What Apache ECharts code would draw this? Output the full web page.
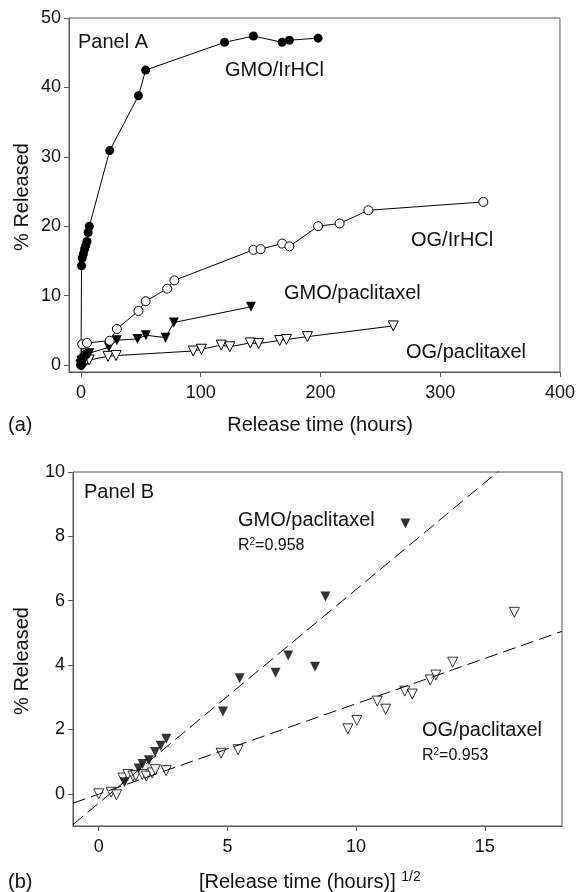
<!DOCTYPE html>
<html>
<head>
<meta charset="utf-8">
<script src="https://cdn.jsdelivr.net/npm/echarts@6/dist/echarts.min.js"></script>
<style>
    html, body { margin: 0; padding: 0; background: #fff; }
    #chart { width: 578px; height: 892px; }
</style>
</head>
<body>
<div id="chart"></div>
<script>
// Panel A data: release time (hours) and % released
let gmoIrTime = [0, 0.5, 1, 2, 3, 4, 5, 6, 7, 24, 48, 54, 120, 144, 168, 174, 198];
let gmoIrPct = [0, 14.3, 15.4, 16.0, 16.7, 17.2, 17.8, 19.1, 20.0, 30.9, 38.8, 42.5, 46.5, 47.4, 46.5, 46.8, 47.1];

let ogIrTime = [0, 1, 5, 24, 30, 48, 54, 72, 78, 144, 150, 168, 174, 198, 216, 240, 336];
let ogIrPct = [0, 3.0, 3.2, 3.5, 5.2, 7.8, 9.2, 11.0, 12.2, 16.6, 16.7, 17.5, 17.1, 20.0, 20.4, 22.3, 23.5];

let gmoPacTime = [0, 1, 2.4, 2.9, 3.8, 4.8, 5.8, 6.9, 23.3, 30, 47.2, 54.2, 70.6, 77.6, 142];
let gmoPacPct = [0, 0.36, 0.79, 0.93, 1.04, 1.30, 1.49, 1.71, 2.56, 3.59, 3.76, 4.30, 3.95, 6.13, 8.40];

let ogPacTime = [0, 0.23, 0.48, 0.88, 1.28, 1.77, 2.07, 2.86, 3.42, 4.33, 4.84, 6.86, 22.6, 29.3, 93.7, 100.6, 117.1, 124.3, 141.4, 148.4, 165.9, 171.6, 189.1, 260.8];
let ogPacPct = [0, 0.05, -0.03, 0.49, 0.60, 0.55, 0.57, 0.60, 0.55, 0.65, 0.75, 0.72, 1.26, 1.37, 2.02, 2.28, 2.88, 2.63, 3.19, 3.10, 3.54, 3.69, 4.09, 5.64];

// linear fits for panel B [slope, intercept]
let gmoPacFit = [0.664, -0.29];
let ogPacFit = [0.281, -0.01];

// tick labels
let xTicksA = [0, 100, 200, 300, 400];
let yTicksA = [0, 10, 20, 30, 40, 50];
let xTicksB = [0, 5, 10, 15];
let yTicksB = [0, 2, 4, 6, 8, 10];

var chart = echarts.init(document.getElementById('chart'));

const font = "'Liberation Sans', Arial, Helvetica, sans-serif";
const axisColor = '#555';

function pairs(xs, ys, fx) {
    return xs.map((x, i) => [fx ? fx(x) : x, ys[i]]);
}

function fitLine(fit, x0, x1) {
    return [[x0, fit[0] * x0 + fit[1]], [x1, fit[0] * x1 + fit[1]]];
}

function valueAxis(gridIndex, min, max, ticks) {
    return {
        type: 'value',
        gridIndex: gridIndex,
        min: min,
        max: max,
        axisLine: {show: true, onZero: false, lineStyle: {color: axisColor, width: 1}},
        axisTick: {show: true, inside: false, length: 5, customValues: ticks, lineStyle: {color: axisColor}},
        axisLabel: {customValues: ticks, color: '#111', fontSize: 18, fontFamily: font, margin: 8},
        splitLine: {show: false}
    };
}

let xA = valueAxis(0, -10, 400, xTicksA);
xA.axisLabel.margin = 12;
let yA = valueAxis(0, -1, 50, yTicksA);
let xB = valueAxis(1, -1, 18, xTicksB);
xB.axisLabel.margin = 12;
let yB = valueAxis(1, -1, 10, yTicksB);

const filledCircle = {symbol: 'circle', symbolSize: 9, itemStyle: {color: '#000'}};
const openCircle = {symbol: 'circle', symbolSize: 9, itemStyle: {color: '#fff', borderColor: '#000', borderWidth: 1}};
const filledTri = {symbol: 'triangle', symbolRotate: 180, symbolSize: 10, itemStyle: {color: '#000'}};
const openTri = {symbol: 'triangle', symbolRotate: 180, symbolSize: 10, itemStyle: {color: '#fff', borderColor: '#000', borderWidth: 1}};

function curveA(name, xs, ys, marker) {
    return Object.assign({
        name: name,
        type: 'line',
        xAxisIndex: 0,
        yAxisIndex: 0,
        data: pairs(xs, ys),
        showAllSymbol: true,
        lineStyle: {color: '#000', width: 1},
        animation: false
    }, marker);
}

function label(text, x, y, size, extra) {
    return Object.assign({
        type: 'text',
        x: x,
        y: y,
        style: {text: text, font: size + 'px ' + font, fill: '#111', textVerticalAlign: 'middle'}
    }, extra || {});
}

function vLabel(text, x, y) {
    return {
        type: 'text', x: x, y: y, rotation: Math.PI / 2,
        style: {text: text, font: '20px ' + font, fill: '#111', textAlign: 'center', textVerticalAlign: 'middle'}
    };
}

// GMO/paclitaxel scatter in panel B leaves out t = 0 (only the open marker shows there)
let gmoPacB = pairs(gmoPacTime, gmoPacPct, Math.sqrt).filter(p => p[0] > 0);

var option = {
    animation: false,
    backgroundColor: '#fff',
    grid: [
        {left: 69, top: 18, width: 493, height: 354, show: true, borderColor: axisColor, borderWidth: 1},
        {left: 73, top: 472, width: 489, height: 354, show: true, borderColor: axisColor, borderWidth: 1}
    ],
    xAxis: [xA, xB],
    yAxis: [yA, yB],
    series: [
        curveA('OG/paclitaxel', ogPacTime, ogPacPct, openTri),
        curveA('GMO/paclitaxel', gmoPacTime, gmoPacPct, filledTri),
        curveA('OG/IrHCl', ogIrTime, ogIrPct, openCircle),
        curveA('GMO/IrHCl', gmoIrTime, gmoIrPct, filledCircle),
        {
            type: 'line', xAxisIndex: 1, yAxisIndex: 1,
            data: fitLine(gmoPacFit, -1, 18), showSymbol: false, clip: true,
            lineStyle: {color: '#000', width: 1, type: [13, 6]}
        },
        {
            type: 'line', xAxisIndex: 1, yAxisIndex: 1,
            data: fitLine(ogPacFit, -1, 18), showSymbol: false, clip: true,
            lineStyle: {color: '#000', width: 1, type: [13, 6]}
        },
        Object.assign({
            type: 'scatter', xAxisIndex: 1, yAxisIndex: 1,
            data: pairs(ogPacTime, ogPacPct, Math.sqrt)
        }, openTri),
        Object.assign({
            type: 'scatter', xAxisIndex: 1, yAxisIndex: 1,
            data: gmoPacB
        }, filledTri)
    ],
    graphic: [
        // panel A
        label('Panel A', 78, 42, 20),
        label('GMO/IrHCl', 225, 70, 20),
        label('OG/IrHCl', 411, 240, 20),
        label('GMO/paclitaxel', 284, 293, 20),
        label('OG/paclitaxel', 406, 352, 20),
        vLabel('% Released', 22, 197),
        label('Release time (hours)', 320, 425, 20, {style: {text: 'Release time (hours)', font: '20px ' + font, fill: '#111', textAlign: 'center', textVerticalAlign: 'middle'}}),
        label('(a)', 8, 425, 20),
        // panel B
        label('Panel B', 84, 492, 20),
        label('GMO/paclitaxel', 238, 520, 20),
        {
            type: 'text', x: 238, y: 546,
            style: {
                text: 'R{sup|2}=0.958', font: '16px ' + font, fill: '#111', textVerticalAlign: 'middle',
                rich: {sup: {fontSize: 10, fontFamily: font, verticalAlign: 'top', padding: [0, 0, 8, 0]}}
            }
        },
        label('OG/paclitaxel', 422, 730, 20),
        {
            type: 'text', x: 422, y: 756,
            style: {
                text: 'R{sup|2}=0.953', font: '16px ' + font, fill: '#111', textVerticalAlign: 'middle',
                rich: {sup: {fontSize: 10, fontFamily: font, verticalAlign: 'top', padding: [0, 0, 8, 0]}}
            }
        },
        vLabel('% Released', 22, 661),
        {
            type: 'text', x: 199, y: 882,
            style: {
                text: '[Release time (hours)] {sup|1/2}', font: '20px ' + font, fill: '#111', textVerticalAlign: 'middle',
                rich: {sup: {fontSize: 14, fontFamily: font, verticalAlign: 'top', padding: [0, 0, 10, 0]}}
            }
        },
        label('(b)', 8, 882, 20)
    ]
};

chart.setOption(option);
</script>
</body>
</html>
